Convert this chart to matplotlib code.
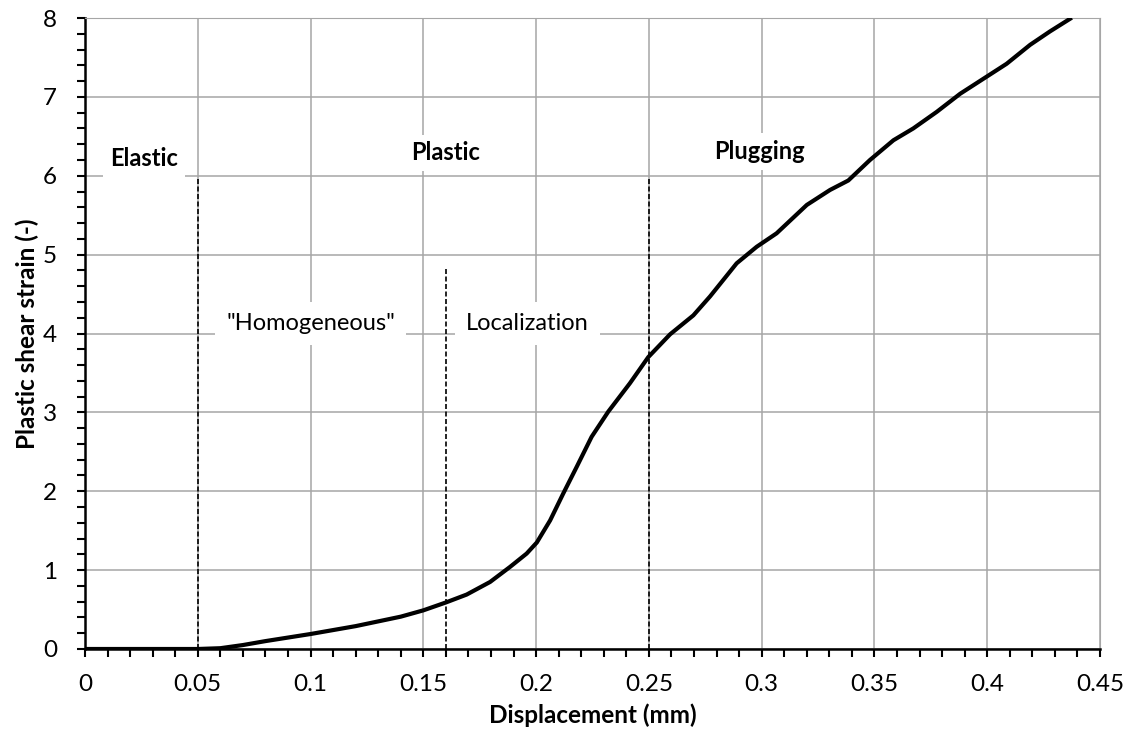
import matplotlib
matplotlib.use('Agg')
import matplotlib.pyplot as plt
import numpy as np
from matplotlib.ticker import MultipleLocator, FuncFormatter

plt.rcParams['font.family'] = ['Lato', 'DejaVu Sans']

# displacement (mm) vs plastic shear strain (-)
disp = [0.0, 0.05, 0.06, 0.07, 0.08, 0.09, 0.1, 0.11, 0.12, 0.13, 0.14, 0.15, 0.16, 0.1692, 0.1796,
        0.1884, 0.1958, 0.2003, 0.2062, 0.212, 0.218, 0.2246, 0.232, 0.2416, 0.2497,
        0.2594, 0.2697, 0.2771, 0.2889, 0.2978, 0.3066, 0.32, 0.3303, 0.3384, 0.348,
        0.3584, 0.3672, 0.3776, 0.388, 0.3983, 0.4086, 0.419, 0.4278, 0.4367]
strain = [0.0, 0.0, 0.01, 0.05, 0.1, 0.145, 0.19, 0.24, 0.29, 0.35, 0.41, 0.49, 0.59, 0.69, 0.85,
          1.04, 1.21, 1.35, 1.63, 1.97, 2.31, 2.69, 3.01, 3.37, 3.7,
          3.99, 4.23, 4.47, 4.89, 5.1, 5.27, 5.63, 5.82, 5.94, 6.2,
          6.45, 6.6, 6.81, 7.04, 7.23, 7.42, 7.66, 7.83, 7.99]

# stage boundaries (x, top of dashed line)
bound_x = [0.05, 0.16, 0.25]
bound_top = [5.96, 4.83, 5.96]

# stage labels
stage_txt = ['Elastic', 'Plastic', 'Plugging']
stage_x = [0.0262, 0.16, 0.299]
stage_y = [6.22, 6.29, 6.31]
sub_txt = ['"Homogeneous"', 'Localization']
sub_x = [0.1, 0.196]
sub_y = [4.13, 4.13]

fs = 17.5

fig = plt.figure(figsize=(11.3, 7.38), dpi=100)
ax = fig.add_axes([0.0752, 0.1206, 0.8983, 0.855])

gc = '#a6a6a6'
ax.grid(True, color=gc, linewidth=1.1, zorder=0)
ax.set_axisbelow(True)

ax.plot(disp, strain, color='k', linewidth=3, zorder=5, solid_joinstyle='round')

for xb, top in zip(bound_x, bound_top):
    ax.plot([xb, xb], [0, top], color='k', linestyle=(0, (3, 1.5)), linewidth=1.2, zorder=4)

for t, x, y in zip(stage_txt, stage_x, stage_y):
    ax.text(x, y, t, fontsize=17, fontweight='bold', ha='center', va='center',
            bbox=dict(facecolor='white', edgecolor='none', pad=5), zorder=3)
for t, x, y in zip(sub_txt, sub_x, sub_y):
    ax.text(x, y, t, fontsize=17, ha='center', va='center',
            bbox=dict(facecolor='white', edgecolor='none', pad=8), zorder=3)

ax.set_xlim(0, 0.45)
ax.set_ylim(0, 8)
ax.xaxis.set_major_locator(MultipleLocator(0.05))
ax.xaxis.set_minor_locator(MultipleLocator(0.01))
ax.yaxis.set_major_locator(MultipleLocator(1))
ax.yaxis.set_minor_locator(MultipleLocator(0.2))
ax.xaxis.set_major_formatter(FuncFormatter(lambda v, p: '%g' % round(v, 2)))
ax.tick_params(which='both', direction='out', length=6, width=1.5, color='k', labelsize=fs)
ax.tick_params(axis='x', pad=12)
ax.tick_params(axis='y', pad=14)

ax.spines['left'].set_color('k')
ax.spines['bottom'].set_color('k')
ax.spines['left'].set_linewidth(1.8)
ax.spines['bottom'].set_linewidth(1.8)
ax.spines['top'].set_color(gc)
ax.spines['right'].set_color(gc)

ax.set_xlabel('Displacement (mm)', fontsize=fs, fontweight='bold', labelpad=6)
ax.set_ylabel('Plastic shear strain (-)', fontsize=fs, fontweight='bold', labelpad=3)

fig.savefig('out.png', dpi=100)
